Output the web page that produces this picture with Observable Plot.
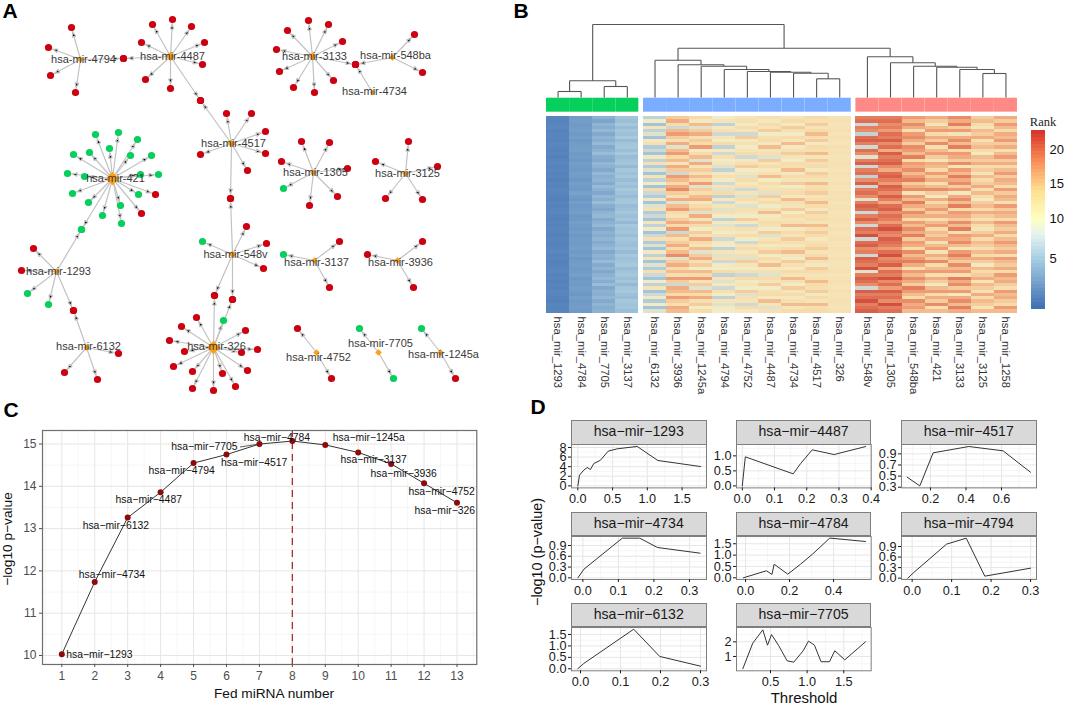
<!DOCTYPE html>
<html><head><meta charset="utf-8">
<style>
html,body{margin:0;padding:0;background:#fff}
#stage{position:relative;width:1065px;height:704px;overflow:hidden;font-family:"Liberation Sans",Arial,sans-serif}
#stage svg{position:absolute;background:transparent;overflow:visible}
.t{position:absolute;line-height:1;white-space:nowrap;transform:translate(-50%,-50%)}
.strip{position:absolute;box-sizing:border-box;background:#d9d9d9;border:1px solid #7f7f7f;color:#1a1a1a;font-size:14.1px;text-align:center}
</style>
<script src="https://cdn.jsdelivr.net/npm/d3@7"></script>
<script src="https://cdn.jsdelivr.net/npm/@observablehq/plot@0.6"></script>
</head><body><div id="stage"></div>
<script>
// ---------- Panel A: network ----------
const hubNames=["hsa-mir-4794","hsa-mir-4487","hsa-mir-4517","hsa-mir-421","hsa-mir-1293","hsa-mir-6132","hsa-mir-548v","hsa-mir-326","hsa-mir-3133","hsa-mir-548ba","hsa-mir-4734","hsa-mir-1305","hsa-mir-3125","hsa-mir-3137","hsa-mir-3936","hsa-mir-4752","hsa-mir-7705","hsa-mir-1245a"];
const hubX=[80,170,231,112,56,86,232,213,312,392,372,313,405,314,397,316,378,440];
const hubY=[59,56,143,178,271,347,254,347,56,57,92,172,173,260,260,352,352,352];
const hubSize=[3,4.2,3.6,6,3,3,3.2,6,3.6,3,2.4,3,3,3,3,3,3,3];
const hubLabelX=[83,172,233,115,58,88,235,216,314,395,374,315,407,316,400,318,380,443];
const hubLabelY=[59,56,143,178,271,346,254,346,56,55,91,172,173,262,262,357,343,354];
// [hub index, target x, target y, group: 1 = green, 0 = red]
const edges=[
[0,71,27,0],[0,48,47,0],[0,50,75,0],[0,75,92,0],[0,123,58,0],
[1,152,24,0],[1,172,19,0],[1,191,26,0],[1,204,42,0],[1,202,64,0],[1,141,42,0],[1,145,79,0],[1,170,88,0],[1,123,58,0],[1,200,100,0],
[2,226,113,0],[2,251,113,0],[2,265,131,0],[2,265,153,0],[2,247,170,0],[2,200,154,0],[2,230,198,0],[2,200,100,0],
[3,95,134,1],[3,118,132,1],[3,137,139,1],[3,109,148,1],[3,89,152,1],[3,130,155,1],[3,151,155,1],[3,73,154,1],[3,67,173,1],[3,84,176,1],[3,140,174,1],[3,158,174,1],[3,72,193,1],[3,155,194,0],[3,138,194,1],[3,88,202,1],[3,120,205,1],[3,102,215,1],[3,121,223,1],[3,141,213,0],[3,81,229,1],
[4,33,248,0],[4,21,270,0],[4,27,293,1],[4,48,304,1],[4,73,310,0],[4,81,229,1],
[5,73,310,0],[5,118,353,0],[5,64,372,0],[5,97,379,0],
[6,230,198,0],[6,246,226,0],[6,266,243,0],[6,263,268,0],[6,202,241,1],[6,214,295,0],[6,232,299,0],
[7,196,317,0],[7,181,326,0],[7,169,340,0],[7,184,351,0],[7,173,366,0],[7,192,371,0],[7,192,388,0],[7,213,390,0],[7,235,386,0],[7,222,373,0],[7,247,370,0],[7,257,349,0],[7,241,352,0],[7,245,330,0],[7,223,320,1],[7,214,295,0],[7,232,299,0],
[8,308,20,0],[8,287,30,0],[8,328,24,0],[8,342,41,0],[8,276,49,0],[8,279,71,0],[8,293,87,0],[8,314,92,0],[8,333,80,0],[8,355,64,0],
[9,414,34,0],[9,422,72,0],[9,355,64,0],
[10,355,64,0],
[11,301,141,0],[11,329,142,0],[11,281,161,0],[11,347,168,0],[11,337,196,0],[11,283,188,1],[11,309,205,0],
[12,408,141,0],[12,375,161,0],[12,437,166,0],[12,385,198,0],[12,422,199,0],
[13,339,241,0],[13,283,254,1],[13,329,287,0],
[14,422,241,0],[14,367,254,0],[14,413,287,0],
[15,297,328,0],[15,331,378,0],
[16,359,328,1],[16,393,378,1],
[17,421,328,1],[17,455,378,0]
];
// ---------- Panel B: heatmap ----------
const columnLabels=["hsa_mir_1293","hsa_mir_4784","hsa_mir_7705","hsa_mir_3137","hsa_mir_6132","hsa_mir_3936","hsa_mir_1245a","hsa_mir_4794","hsa_mir_4752","hsa_mir_4487","hsa_mir_4734","hsa_mir_4517","hsa_mir_326","hsa_mir_548v","hsa_mir_1305","hsa_mir_548ba","hsa_mir_421","hsa_mir_3133","hsa_mir_3125","hsa_mir_1258"];
const columnGroup=[0,0,0,0,1,1,1,1,1,1,1,1,1,2,2,2,2,2,2,2];
const c1293=[1.8,1.7,1.8,1.9,1.7,1.8,1.8,1.7,1.9,1.8,1.7,1.8,1.6,1.8,1.9,1.7,1.8,1.7,1.8,1.6,1.8,1.7,1.9,1.8,1.7,1.6,1.8,1.7,1.8,1.9,1.7,1.6,1.8,1.7,1.8,1.7,1.6,1.8,1.7,1.7,1.8,1.9,1.7,1.8,1.6,1.7,1.8,1.9,1.7,1.8,1.6,1.8,1.7,1.9,1.8,1.7,1.6,1.8,1.7,1.8];
const c4784=[2.9,3.0,2.8,2.9,3.1,2.8,3.0,2.7,2.9,3.0,3.1,2.8,2.9,2.7,3.0,2.9,2.8,3.1,2.9,2.7,3.0,2.9,2.8,3.2,2.9,2.7,3.0,2.8,2.9,3.0,2.7,2.8,3.1,2.9,2.8,3.0,2.7,2.9,2.8,2.9,3.0,2.8,3.1,2.7,2.9,3.0,2.8,2.9,3.1,2.7,2.9,2.8,3.0,2.9,2.7,3.1,2.8,2.9,3.0,2.8];
const c7705=[4.0,3.4,4.2,3.8,4.4,3.6,4.2,3.9,4.5,3.7,4.1,4.6,3.8,3.5,4.3,4.0,3.6,4.4,3.9,4.2,3.7,4.5,4.0,3.6,4.3,3.9,4.6,3.8,3.5,4.2,4.4,3.7,4.0,4.3,3.6,4.1,3.8,4.2,3.7,4.0,4.4,3.6,4.1,3.9,4.5,3.7,4.2,3.5,4.0,4.3,3.8,4.6,3.6,4.1,3.9,4.3,3.7,4.2,3.8,4.0];
const c3137=[5.0,4.7,5.3,4.6,5.1,4.8,5.4,4.5,5.0,5.2,4.7,5.5,4.6,4.9,5.1,4.4,5.2,4.8,5.3,4.6,5.0,4.7,5.4,4.9,4.5,5.1,5.3,4.6,4.8,5.2,4.7,5.0,4.4,5.3,4.9,5.1,4.6,5.2,4.8,4.7,5.1,4.5,5.3,4.8,5.0,5.4,4.6,4.9,5.2,4.7,5.1,4.4,5.0,5.3,4.8,4.6,5.2,4.9,5.0,4.7];
const c6132=[7,10,5,12,7,9,5,11,13,6,8,5,11,7,13,6,9,5,12,7,10,5,14,8,6,11,5,9,13,6,8,5,12,7,10,5,8,13,6,9,5,11,7,12,5,9,6,13,8,5,10,7,12,5,8,11,6,10,5,9];
const c3936=[15,17,14,8,16,18,15,13,17,9,16,18,14,16,12,17,15,8,18,16,14,17,19,15,13,17,9,16,18,14,12,15,17,14,18,8,16,13,15,17,14,16,19,9,15,17,14,16,13,18,15,8,17,16,14,18,15,13,17,16];
const c1245a=[14,11,16,9,15,17,13,15,14,18,10,14,16,9,17,12,15,13,16,14,18,9,15,13,16,17,11,14,15,9,17,12,16,14,10,15,13,17,14,12,16,9,15,17,13,15,10,16,14,18,12,15,9,16,14,17,13,15,10,14];
const c4794=[10,12,7,11,13,8,12,10,14,7,11,8,13,10,12,9,7,11,13,10,8,12,9,14,7,11,8,12,9,13,10,7,11,9,12,10,13,8,11,10,7,12,9,13,8,11,10,14,7,12,9,11,8,13,10,7,12,9,11,10];
const c4752=[12,13,10,14,12,8,15,11,13,10,12,14,8,11,13,15,10,12,9,14,11,13,8,12,9,14,11,9,13,12,10,15,11,8,13,11,14,10,8,12,14,11,13,9,15,12,10,13,8,14,11,12,10,15,9,13,12,8,14,11];
const c4487=[13,11,14,12,15,10,13,14,11,16,12,13,9,15,12,14,11,13,16,10,14,12,13,9,15,12,14,10,13,16,11,12,14,13,10,15,9,12,14,11,13,15,10,14,12,16,11,13,9,14,12,15,10,13,14,11,16,12,9,13];
const c4734=[12,14,11,15,13,10,14,12,16,11,13,15,12,10,14,13,16,11,14,12,15,10,13,14,11,16,13,12,15,10,14,12,13,16,11,14,12,15,13,11,14,16,12,10,15,13,11,14,12,16,13,10,15,12,14,11,13,16,12,14];
const c4517=[14,13,15,12,14,16,13,15,11,14,13,16,12,15,13,14,11,15,14,12,16,13,14,15,12,13,16,14,11,15,13,14,12,16,13,15,14,11,13,14,15,12,14,16,13,11,15,14,12,13,16,14,13,15,11,14,12,16,13,14];
const c326=[12.5,13,12,12.5,13,12,13,12.5,12,13,12.5,13,12,12.5,13,12.5,12,13,12.5,12,13,12.5,12,13,12.5,13,12,12.5,13,12,12.5,13,12.5,12,13,12,12.5,13,12.5,12,13,12.5,12,13,12.5,12,12.5,13,12,12.5,13,12.5,12,13,12,12.5,13,12.5,12,13];
const c548v=[20,21,8,20,19,7,21,22,20,8,21,19,9,20,22,8,20,21,7,19,22,8,20,21,19,9,20,22,21,8,20,22,19,8,21,20,23,8,21,22,19,20,8,22,21,20,23,9,20,22,21,19,8,22,20,21,23,20,21,22];
const c1305=[20,21,19,20,18,21,20,22,19,21,17,22,20,21,22,19,17,21,22,20,18,22,21,19,22,20,17,21,22,19,21,20,18,21,23,20,19,22,21,20,18,21,23,19,20,22,17,21,20,23,19,21,18,22,20,21,19,23,20,21];
const c548ba=[18,16,19,17,13,18,19,17,15,19,18,16,20,14,18,17,19,16,18,20,15,17,19,12,18,16,20,17,15,19,17,14,18,16,19,17,20,15,18,17,14,19,16,18,20,17,13,18,16,19,17,15,20,18,16,14,19,17,18,16];
const c421=[17,15,12,16,18,14,17,15,19,13,16,18,15,12,17,16,14,18,15,17,13,16,19,15,11,17,14,16,18,15,17,13,16,18,14,16,15,17,13,16,18,12,17,15,19,14,16,18,13,17,15,11,16,18,14,17,15,19,13,16];
const c3133=[19,17,20,15,18,12,17,19,16,20,14,18,17,15,19,12,18,16,20,17,19,15,18,11,17,19,16,20,14,18,17,15,19,16,20,13,18,17,19,16,12,18,20,17,15,19,16,18,13,20,17,19,15,18,11,17,19,16,20,17];
const c3125=[15,16,14,12,16,15,17,13,15,16,14,11,16,15,17,14,15,12,16,14,15,17,13,16,14,11,15,16,14,17,15,13,16,14,12,15,17,14,16,15,13,16,14,17,15,11,16,14,15,17,12,16,15,13,17,14,16,15,12,16];
const c1258=[17,15,18,16,14,17,16,18,15,17,13,16,18,15,17,14,16,18,15,17,16,14,18,15,17,16,13,18,15,17,16,14,18,16,15,17,14,16,18,16,15,17,13,18,16,15,17,14,18,16,17,15,13,18,16,17,15,14,18,16];
const heatColumns=[c1293,c4784,c7705,c3137,c6132,c3936,c1245a,c4794,c4752,c4487,c4734,c4517,c326,c548v,c1305,c548ba,c421,c3133,c3125,c1258];
const rankStops=[1,5,8,10,14,18,23];
const rankColors=["#4575b4","#a8cfe3","#e6f3ee","#ffffbf","#fedf90","#fb925c","#d73027"];
const heatColors=["#4575b4","#a3c5db","#cfd8d2","#f1ecc6","#f7dcaa","#ef9c74","#d2503f"];
const groupColors=["#06cf5c","#7aadff","#ff8a85"];
const legendTickRanks=[1,5,10,15,20,23];
const legendTickPos=[305,258,218,183,149,130];
// dendrogram merges: [left, right, height]; left/right < 0 is leaf -(i+1), otherwise merge index
const merges=[[-1,-2,6],[-3,-4,11],[0,1,16.7],
[-13,-12,18.7],[-11,3,24.3],[-10,4,25.3],[-9,5,26],[-8,6,28],[-7,7,31.3],[-6,8,32.7],[-5,9,37.3],
[-19,-20,24],[-18,11,28],[-17,12,30.3],[-16,13,31.3],[-15,14,34.7],[-14,15,40.7],
[10,16,49.3],[2,17,73]];
// ---------- Panel C ----------
const fedNumber=[1,2,3,4,5,6,7,8,9,10,11,12,13];
const fedP=[10.03,11.74,13.26,13.86,14.55,14.75,15.0,15.07,14.98,14.8,14.53,14.07,13.61];
const fedNames=["hsa−mir−1293","hsa−mir−4734","hsa−mir−6132","hsa−mir−4487","hsa−mir−4794","hsa−mir−7705","hsa−mir−4517","hsa−mir−4784","hsa−mir−1245a","hsa−mir−3137","hsa−mir−3936","hsa−mir−4752","hsa−mir−326"];
const fedLabelX=[2.14,2.52,2.64,3.64,4.64,5.33,6.84,7.53,10.32,10.47,11.38,12.53,12.63];
const fedLabelY=[10.02,11.92,13.07,13.68,14.37,14.93,14.56,15.15,15.15,14.63,14.3,13.88,13.43];
const bestFed=[8];
// ---------- Panel D ----------
const x1293=[0,.024,.086,.134,.182,.23,.326,.436,.566,.854,1.151,1.765];
const y1293=[0,2.23,3.28,3.82,3.41,4.66,5.35,7.23,7.72,8.21,5.29,4.03];
const x4487=[0,.0093,.158,.181,.217,.285,.383];
const y4487=[0,.967,.4,.744,1.2,1.044,1.31];
const x4517=[.069,.14,.215,.416,.609,.763];
const y4517=[.48,.324,.918,1.032,.954,.57];
const x4734=[-.014,.003,.111,.16,.21,.33];
const y4734=[0,.241,1.104,1.104,.844,.686];
const x4784=[-.01,.095,.12,.13,.192,.25,.304,.383,.545];
const y4784=[0,.31,.147,.6,.16,.6,1.04,1.75,1.6];
const x4794=[-.011,.004,.087,.137,.184,.3];
const y4794=[0,.16,.966,1.136,.057,.284];
const x6132=[-.007,.008,.133,.198,.3];
const y6132=[0,.23,1.73,.54,.116];
const x7705=[.122,.258,.395,.459,.514,.613,.727,.818,.946,1.018,1.1,1.19,1.305,1.377,1.514,1.796];
const y7705=[.16,1.91,2.82,1.77,2.5,1.73,.7,.61,1.39,2.05,1.77,.64,.64,1.39,.77,2.0];

const FONT='"Liberation Sans",Arial,sans-serif';
const stage=document.getElementById('stage');
function panel([l,t,r,b],[pl,pt,pr,pb],opts){
  const svg=Plot.plot({width:r-l+pl+pr,height:b-t+pt+pb,marginLeft:pl,marginTop:pt,marginRight:pr,marginBottom:pb,
    style:{fontFamily:FONT,background:"transparent",overflow:"visible"},...opts});
  svg.style.left=(l-pl)+'px';svg.style.top=(t-pt)+'px';stage.append(svg);return svg;
}
function label(text,x,y,css={}){
  const d=document.createElement('div');d.className='t';d.textContent=text;
  d.style.left=x+'px';d.style.top=y+'px';Object.assign(d.style,css);stage.append(d);return d;
}
const letter={fontWeight:'bold',fontSize:'21px',color:'#000',lineHeight:'.8'};
label('A',10,11,letter);label('B',521,11,letter);label('C',11,410,letter);label('D',538,407,letter);

// Panel A
const arrowHead=(color,ctx)=>{
  const NS="http://www.w3.org/2000/svg";
  const m=ctx.document.createElementNS(NS,"marker");
  m.setAttribute("viewBox","-12 -2.5 12 5");m.setAttribute("markerUnits","userSpaceOnUse");
  m.setAttribute("markerWidth","12");m.setAttribute("markerHeight","5");
  m.setAttribute("refX","0");m.setAttribute("refY","0");m.setAttribute("orient","auto");
  const p=ctx.document.createElementNS(NS,"path");
  p.setAttribute("d","M-9.5,-1.8L-5,0L-9.5,1.8Z");p.setAttribute("fill","#000");
  m.append(p);return m;
};
const hubs=hubNames.map((name,i)=>({name,x:hubX[i],y:hubY[i],r:hubSize[i],lx:hubLabelX[i],ly:hubLabelY[i]}));
const links=edges.map(([h,x,y,g])=>({x1:hubX[h],y1:hubY[h],x2:x,y2:y,g}));
panel([0,0,520,400],[0,0,0,0],{
  x:{domain:[0,520],axis:null},y:{domain:[400,0],axis:null},
  marks:[
    Plot.link(links,{x1:"x1",y1:"y1",x2:"x2",y2:"y2",stroke:"#c2c2c2",strokeWidth:1.2,markerEnd:arrowHead}),
    Plot.dot(links,{x:"x2",y:"y2",r:3.6,fill:d=>d.g?"#06cf5c":"#cc0010",stroke:"none"}),
    Plot.dot(hubs,{x:"x",y:"y",r:d=>d.r,symbol:"diamond2",fill:"#ffa012",stroke:"none"}),
    Plot.text(hubs,{x:"lx",y:"ly",text:"name",fontSize:11,fill:"#3a3a3a"})
  ],
  r:{type:"identity"}
});

// Panel B
const gap=i=>i+(i>=4?0.2:0)+(i>=13?0.2:0);
const xB=[0,20.4];
const leafX=i=>gap(i)+0.5;
const nodes=[];
const seg=[];
const pos=n=>n<0?{x:leafX(-n-1),h:0}:nodes[n];
merges.forEach(([a,b,h])=>{
  const A=pos(a),B=pos(b);
  seg.push({x1:A.x,x2:A.x,y1:A.h,y2:h},{x1:B.x,x2:B.x,y1:B.h,y2:h},{x1:A.x,x2:B.x,y1:h,y2:h});
  nodes.push({x:(A.x+B.x)/2,h});
});
const annot=columnLabels.map((c,i)=>({x1:gap(i),x2:gap(i)+1,g:columnGroup[i]}));
panel([546,22,1017,112],[0,0,0,0],{
  x:{domain:xB,axis:null},y:{domain:[-15,75],axis:null},
  marks:[
    Plot.rect(annot,{x1:"x1",x2:"x2",y1:()=>-.7,y2:()=>-14.7,fill:d=>groupColors[d.g],stroke:"#fff",strokeOpacity:.08,strokeWidth:.5}),
    Plot.link(seg,{x1:"x1",x2:"x2",y1:"y1",y2:"y2",stroke:"#555",strokeWidth:1.1})
  ]
});
const nRows=c1293.length;
const cells=heatColumns.flatMap((col,i)=>col.map((v,r)=>({x1:gap(i),x2:gap(i)+1,r,v})));
const colTicks=columnLabels.map((name,i)=>({name,x:leafX(i)}));
panel([546,116,1017,312.6],[0,0,0,90],{
  x:{domain:xB,axis:null},y:{domain:[nRows,0],axis:null},
  color:{type:"linear",domain:rankStops,range:heatColors},
  marks:[
    Plot.rect(cells,{x1:"x1",x2:"x2",y1:"r",y2:d=>d.r+1,fill:"v",shapeRendering:"crispEdges"}),
    Plot.text(colTicks,{x:"x",y:()=>nRows,dy:3.5,text:"name",rotate:90,textAnchor:"start",fontSize:11.3,fill:"#333"})
  ]
});
// colour bar: bands are placed on a position axis, each band coloured by the rank it stands for
const rankAt=d3.scaleLinear().domain(legendTickPos).range(legendTickRanks);
const legendBands=d3.range(130,307,3.5).map(p=>({p,rank:rankAt(p+1.75)}));
const legendTicks=legendTickRanks.slice(1,5).map((rank,i)=>({rank,p:legendTickPos[i+1]}));
label('Rank',1043,122,{fontFamily:'"Liberation Serif",serif',fontSize:'12.5px',color:'#222'});
panel([1031,130,1045,307],[0,0,22,0],{
  x:{domain:[0,1],axis:null},y:{domain:[307,130],axis:null},
  color:{type:"linear",domain:rankStops,range:rankColors},
  marks:[
    Plot.rect(legendBands,{x1:()=>0,x2:()=>1,y1:"p",y2:d=>d.p+3.5,fill:"rank",shapeRendering:"crispEdges"}),
    Plot.text(legendTicks,{x:()=>1,y:"p",dx:4,text:"rank",textAnchor:"start",fontSize:13,fill:"#111"})
  ]
});

// Panel C
const gridC=(x,y,mx,my)=>[
  Plot.gridX(mx,{stroke:"#f0f0f0",strokeOpacity:1,strokeWidth:.6}),
  Plot.gridY(my,{stroke:"#f0f0f0",strokeOpacity:1,strokeWidth:.6}),
  Plot.gridX(x,{stroke:"#e6e6e6",strokeOpacity:1,strokeWidth:1}),
  Plot.gridY(y,{stroke:"#e6e6e6",strokeOpacity:1,strokeWidth:1})
];
const fed=fedNumber.map((n,i)=>({n,p:fedP[i],name:fedNames[i],lx:fedLabelX[i],ly:fedLabelY[i]}));
const midpoints=(t,a,b)=>{const s=t[1]-t[0];return d3.range(-1,t.length).map(i=>t[0]+(i+.5)*s).filter(v=>v>=a&&v<=b);};
const xTicksC=fedNumber,yTicksC=[10,11,12,13,14,15];
panel([41.7,430,476,664],[30,4,6,24],{
  x:{domain:[.414,13.6]},y:{domain:[9.787,15.32]},
  marks:[
    ...gridC(xTicksC,yTicksC,midpoints(xTicksC,.414,13.6),midpoints(yTicksC,9.787,15.32)),
    Plot.ruleX(bestFed,{stroke:"#a83232",strokeWidth:1.3,strokeDasharray:"7,5"}),
    Plot.line(fed,{x:"n",y:"p",stroke:"#333",strokeWidth:1}),
    Plot.link([fed[6]],{x1:"n",y1:"p",x2:()=>6.41,y2:()=>14.93,stroke:"#333",strokeWidth:.8}),
    Plot.dot(fed,{x:"n",y:"p",r:3,fill:"#8b0a0a",stroke:"none"}),
    Plot.text(fed,{x:"lx",y:"ly",text:"name",fontSize:10.4,fill:"#111"}),
    Plot.frame({stroke:"#6e6e6e",strokeWidth:1.2}),
    Plot.axisX(xTicksC,{tickSize:3,tickPadding:4,fontSize:12,label:null,color:"#4d4d4d"}),
    Plot.axisY(yTicksC,{tickSize:3,tickPadding:3,fontSize:12,label:null,color:"#4d4d4d"})
  ]
});
label('Fed miRNA number',274,694,{fontSize:'13.7px',color:'#111'});
label('−log10 p−value',8,539,{fontSize:'13.7px',color:'#111',transform:'translate(-50%,-50%) rotate(-90deg)'});

// Panel D
const facets=[
 {name:"hsa−mir−1293",x:x1293,y:y1293,col:0,row:0,xd:[-.091,1.851],yd:[-.42,8.62],xt:[0,.5,1,1.5],yt:[0,2,4,6,8],yf:"d"},
 {name:"hsa−mir−4487",x:x4487,y:y4487,col:1,row:0,xd:[-.018,.4],yd:[-.067,1.378],xt:[0,.1,.2,.3,.4],yt:[0,.5,1]},
 {name:"hsa−mir−4517",x:x4517,y:y4517,col:2,row:0,xd:[.037,.797],yd:[.288,1.068],xt:[.2,.4,.6],yt:[.3,.5,.7,.9]},
 {name:"hsa−mir−4734",x:x4734,y:y4734,col:0,row:1,xd:[-.032,.348],yd:[-.046,1.15],xt:[0,.1,.2,.3],yt:[0,.3,.6,.9]},
 {name:"hsa−mir−4784",x:x4784,y:y4784,col:1,row:1,xd:[-.041,.571],yd:[-.074,1.82],xt:[0,.2,.4],yt:[0,.5,1,1.5]},
 {name:"hsa−mir−4794",x:x4794,y:y4794,col:2,row:1,xd:[-.027,.315],yd:[-.038,1.184],xt:[0,.1,.2,.3],yt:[0,.3,.6,.9]},
 {name:"hsa−mir−6132",x:x6132,y:y6132,col:0,row:2,xd:[-.0225,.315],yd:[-.087,1.805],xt:[0,.1,.2,.3],yt:[0,.5,1,1.5]},
 {name:"hsa−mir−7705",x:x7705,y:y7705,col:1,row:2,xd:[.036,1.874],yd:[.02,2.98],xt:[.5,1,1.5],yt:[1,2],yf:"d"}
];
const colX=[[571,706],[736,870.7],[901,1036]];
const rowY=[[420.3,444.3,487.7],[511.7,535.7,578.7],[603,626.7,670]];
facets.forEach(f=>{
  const [l,r]=colX[f.col],[st,t,b]=rowY[f.row];
  const s=document.createElement('div');s.className='strip';s.textContent=f.name;
  Object.assign(s.style,{left:l+'px',top:st+'px',width:(r-l+.5)+'px',height:(t-st+.5)+'px',lineHeight:(t-st-3)+'px'});
  stage.append(s);
  const rows=f.x.map((v,i)=>({x:v,y:f.y[i]}));
  panel([l,t,r,b],[34,1,16,22],{
    x:{domain:f.xd},y:{domain:f.yd},
    marks:[
      Plot.gridX(midpoints(f.xt,f.xd[0],f.xd[1]),{stroke:"#f0f0f0",strokeOpacity:1,strokeWidth:.6}),
      Plot.gridY(midpoints(f.yt,f.yd[0],f.yd[1]),{stroke:"#f0f0f0",strokeOpacity:1,strokeWidth:.6}),
      Plot.gridX(f.xt,{stroke:"#e6e6e6",strokeOpacity:1,strokeWidth:1}),
      Plot.gridY(f.yt,{stroke:"#e6e6e6",strokeOpacity:1,strokeWidth:1}),
      Plot.line(rows,{x:"x",y:"y",stroke:"#333",strokeWidth:1}),
      Plot.frame({stroke:"#7f7f7f",strokeWidth:1}),
      Plot.axisX(f.xt,{tickSize:3,tickPadding:3,fontSize:12.7,label:null,color:"#1a1a1a",tickFormat:d3.format(".1f")}),
      Plot.axisY(f.yt,{tickSize:3,tickPadding:2,fontSize:12.7,label:null,color:"#1a1a1a",tickFormat:f.yf?d3.format("d"):d3.format(".1f")})
    ]
  });
});
label('Threshold',804,697,{fontSize:'15px',color:'#111'});
label('−log10 (p−value)',537,552,{fontSize:'14.4px',color:'#111',transform:'translate(-50%,-50%) rotate(-90deg)'});
</script>
</body></html>
